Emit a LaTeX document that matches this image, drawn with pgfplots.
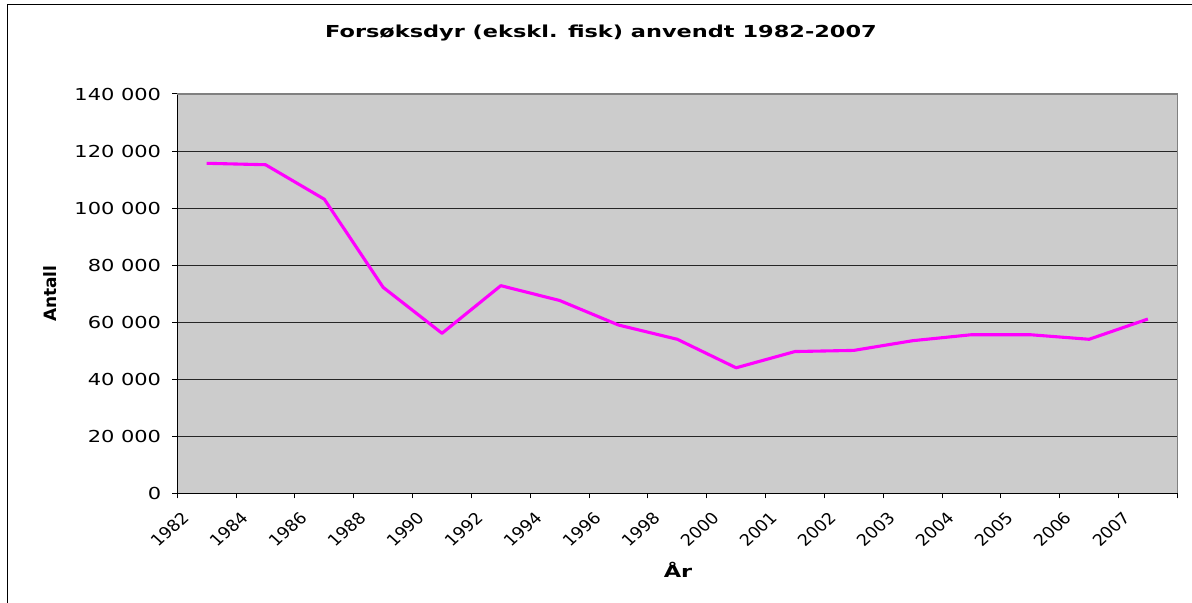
\documentclass[border=0pt]{standalone}
\usepackage{pgfplots}
\pgfplotsset{compat=1.18}
\usepackage{fontspec}
\setmainfont{DejaVu Sans}
\newfontfamily\plainfont{DejaVu Sans}
\newfontfamily\widefont{DejaVu Sans}[FakeStretch=1.27]
\newfontfamily\titlefont{DejaVu Sans}[FakeStretch=1.36]
\definecolor{plotbg}{HTML}{CCCCCC}
\definecolor{boxgray}{HTML}{808080}
\definecolor{linemag}{HTML}{FF00FF}

\begin{document}
\begin{tikzpicture}
\useasboundingbox (-177.3bp,-109.7bp) rectangle (1014.7bp,493.3bp);
% outer chart frame (only left and top edges are visible)
\draw[line width=1.2bp] (-170bp,-130bp) -- (-170bp,489bp) -- (1030bp,489bp);
\begin{axis}[
  at={(0,0)}, anchor=south west,
  scale only axis, width=1000bp, height=399.3bp,
  xmin=-0.5, xmax=16.5, ymin=0, ymax=140000,
  axis x line*=bottom, axis y line*=left,
  axis line style={line width=1.2bp, black, -},
  axis background/.style={fill=plotbg},
  ymajorgrids, grid style={black!85, line width=0.9bp},
  xtick={-0.5,0.5,...,16.5},
  xticklabels={1982,1984,1986,1988,1990,1992,1994,1996,1998,2000,2001,2002,2003,2004,2005,2006,2007,{}},
  ytick={0,20000,40000,60000,80000,100000,120000,140000},
  yticklabels={0,20 000,40 000,60 000,80 000,100 000,120 000,140 000},
  scaled y ticks=false,
  tick align=outside, major tick length=5bp,
  tick style={black, line width=1bp},
  x tick label style={font={\plainfont\fontsize{16bp}{19bp}\selectfont}, xshift=4bp, yshift=-12bp, xscale=1.1, rotate=45, anchor=north east, inner sep=0pt},
  y tick label style={font={\widefont\fontsize{16.5bp}{20bp}\selectfont}, anchor=east, inner sep=0pt, xshift=-11bp},
  clip=false,
]
\addplot[linemag, line width=3.1bp, line join=round] coordinates {
  (0,115700) (1,115200) (2,103100) (3,72200) (4,56100) (5,72800)
  (6,67600) (7,59000) (8,54000) (9,44000) (10,49700) (11,50100)
  (12,53500) (13,55600) (14,55600) (15,54000) (16,61100)
};
\draw[boxgray, line width=1.5bp] (rel axis cs:0,1) -- (rel axis cs:1,1) -- (rel axis cs:1,0);
\end{axis}
\node[font={\titlefont\bfseries\fontsize{16.5bp}{20bp}\selectfont}, anchor=base] at (423.7bp,456bp) {Forsøksdyr (ekskl. fisk) anvendt 1982-2007};
\node[font={\titlefont\bfseries\fontsize{16.5bp}{20bp}\selectfont}, anchor=base] at (500.7bp,-83.7bp) {År};
\node[font={\bfseries\fontsize{17bp}{20bp}\selectfont}, rotate=90, anchor=base] at (-120.3bp,199.65bp) {Antall};
\end{tikzpicture}
\end{document}
